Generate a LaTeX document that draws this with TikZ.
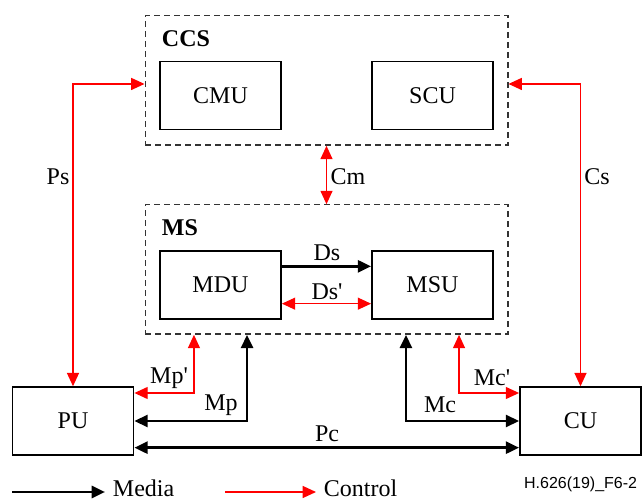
\documentclass[tikz,border=0pt]{standalone}
\usepackage{fontspec}
\setmainfont{Liberation Serif}
\newfontfamily\figidfont{Liberation Sans}
\usetikzlibrary{arrows.meta}

\tikzset{every picture/.style={line width=0.75pt}}
\tikzset{
	unit/.style={draw, line width=1.1pt, minimum width=91pt, minimum height=51pt, inner sep=0pt},
	group/.style={draw={rgb, 255:red, 51; green, 51; blue, 51}, dash pattern=on 4.5pt off 3pt, line width=1pt, minimum width=272pt, minimum height=97pt, inner sep=0pt},
	media/.style={draw=black, line width=2.1pt},
	ctrl/.style={draw=red, line width=1pt},
	lbl/.style={inner sep=1pt}}

\begin{document}
\begin{tikzpicture}[x=0.75pt,y=0.75pt,yscale=-1,xscale=1,
	font=\fontsize{18}{21}\selectfont,
	>={Triangle[length=10pt,width=9pt]}]
	\useasboundingbox (0,0) rectangle (643,502);

	%Shape: Dashed Rect [id:ccs]
	\node [group] (ccs) at (326.5,80.5) {};
	%Shape: Dashed Rect [id:ms]
	\node [group] (ms) at (326.5,269.5) {};
	%Shape: Rectangle [id:cmu]
	\node [unit] (cmu) at (220.5,95.5) {CMU};
	%Shape: Rectangle [id:scu]
	\node [unit] (scu) at (432.5,95.5) {SCU};
	%Shape: Rectangle [id:mdu]
	\node [unit] (mdu) at (220.5,285) {MDU};
	%Shape: Rectangle [id:msu]
	\node [unit] (msu) at (432.5,285) {MSU};
	%Shape: Rectangle [id:pu]
	\node [unit] (pu) at (73,421) {PU};
	%Shape: Rectangle [id:cu]
	\node [unit] (cu) at (580.5,421) {CU};

	%Control lines
	\draw [ctrl,<->] (pu.north) |- ([yshift=2.6pt]ccs.west) ;
	\draw [ctrl,<->] (cu.north) |- ([yshift=2.6pt]ccs.east) ;
	\draw [ctrl,<->] (ccs.south) -- (ms.north) ;
	\draw [ctrl,<->] ([yshift=14pt]mdu.east) -- ([yshift=14pt]msu.west) ;
	\draw [ctrl,<->] ([xshift=-99.4pt]ms.south) |- ([yshift=-21pt]pu.east) ;
	\draw [ctrl,<->] ([xshift=99.4pt]ms.south) |- ([yshift=-21pt]cu.west) ;
	%Media lines
	\draw [media,->] ([yshift=-14pt]mdu.east) -- ([yshift=-14pt]msu.west) ;
	\draw [media,<->] ([xshift=-59.6pt]ms.south) |- (pu.east) ;
	\draw [media,<->] ([xshift=59.6pt]ms.south) |- (cu.west) ;
	\draw [media,<->] ([yshift=20pt]pu.east) -- ([yshift=20pt]cu.west) ;

	% Text Node
	\node [anchor=west, font=\fontsize{18}{21}\selectfont\bfseries] (ccs-name) at (157,39) {CCS};
	% Text Node
	\node [anchor=west, font=\fontsize{18}{21}\selectfont\bfseries] (ms-name) at (157,228) {MS};
	% Text Node
	\node [lbl] (ps-lbl) at (58,177) {Ps};
	% Text Node
	\node [lbl] (cm-lbl) at (348,177) {Cm};
	% Text Node
	\node [lbl] (cs-lbl) at (597,177) {Cs};
	% Text Node
	\node [lbl] (ds-lbl) at (327,253) {Ds};
	% Text Node
	\node [lbl] (ds2-lbl) at (327,292) {Ds\textquotesingle};
	% Text Node
	\node [lbl] (mp2-lbl) at (169,378) {Mp\textquotesingle};
	% Text Node
	\node [lbl] (mp-lbl) at (221,405) {Mp};
	% Text Node
	\node [lbl] (mc-lbl) at (440,405) {Mc};
	% Text Node
	\node [lbl] (mc2-lbl) at (492,378) {Mc\textquotesingle};
	% Text Node
	\node [lbl] (pc-lbl) at (327,434) {Pc};

	%Legend
	\coordinate (media-a) at (12,492) ;
	\coordinate (media-b) at (105,492) ;
	\draw [media,->] (media-a) -- (media-b) ;
	\node [anchor=west] (media-txt) at (108,488) {Media};
	\coordinate (ctrl-a) at (225,492) ;
	\coordinate (ctrl-b) at (316,492) ;
	\draw [ctrl,->] (ctrl-a) -- (ctrl-b) ;
	\node [anchor=west] (ctrl-txt) at (319,488) {Control};
	% Text Node
	\node [anchor=east, font=\figidfont\fontsize{12}{14}\selectfont] (fig-id) at (642,484) {H.626(19)\_F6-2};
\end{tikzpicture}
\end{document}
